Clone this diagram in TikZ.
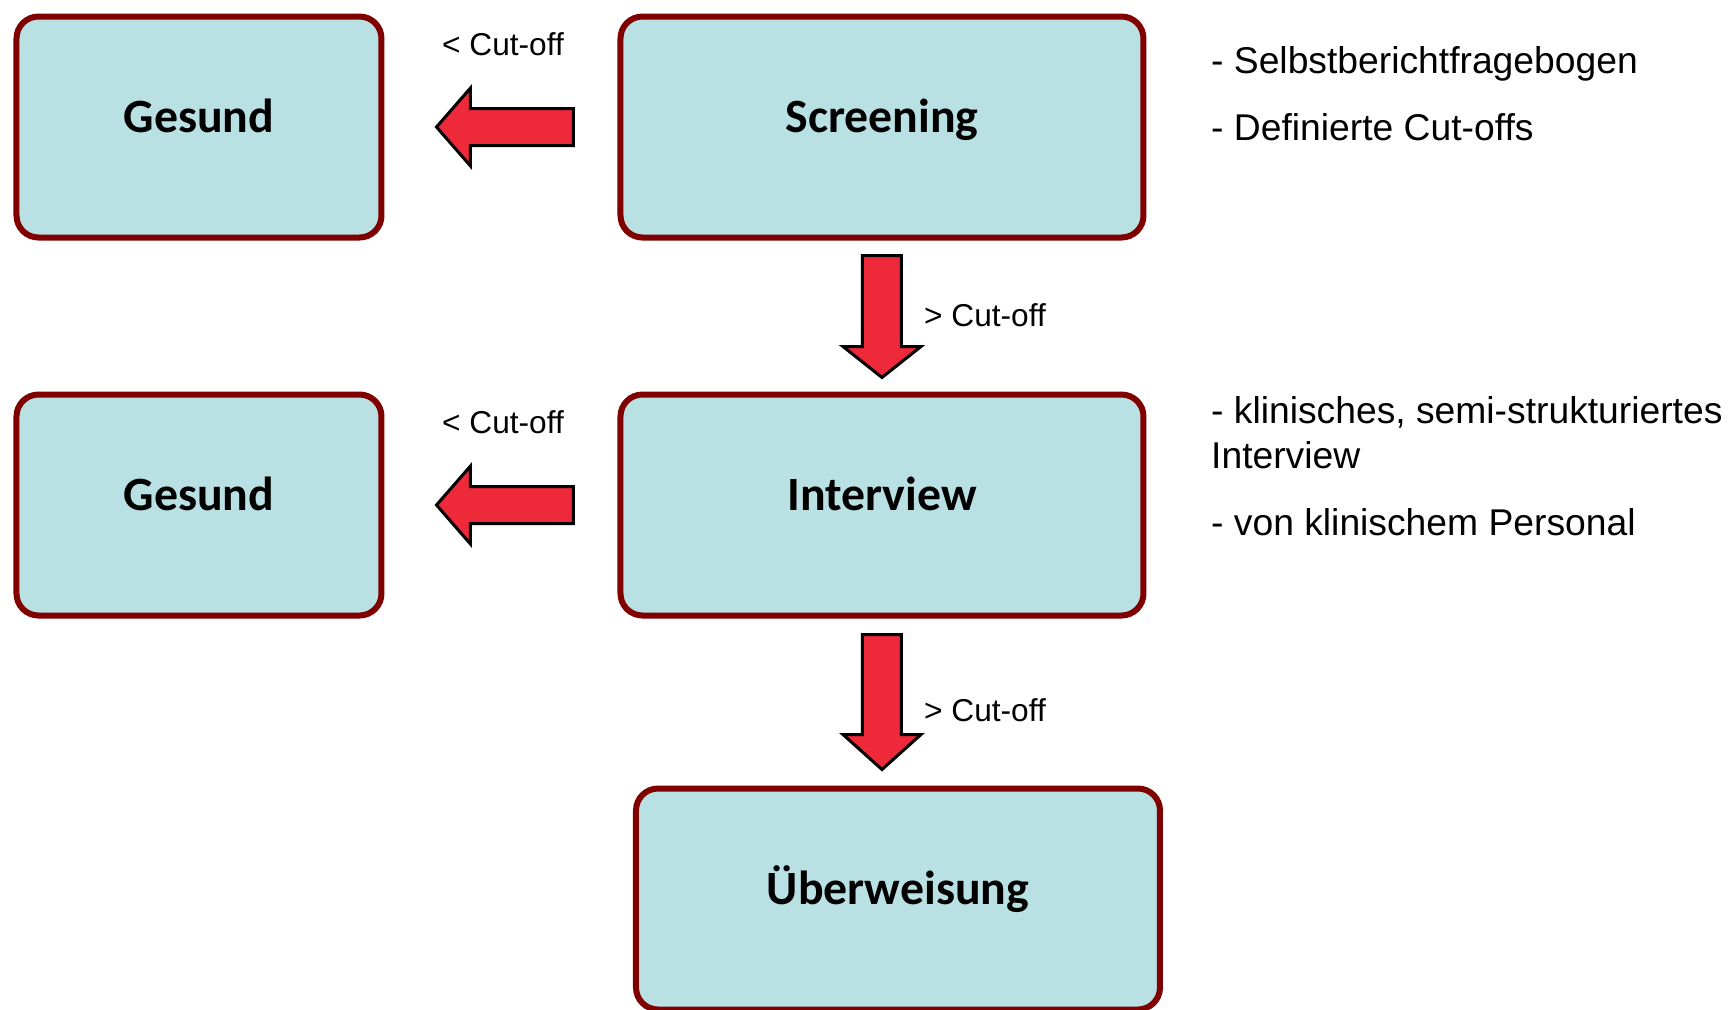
\documentclass[tikz,border=0pt]{standalone}
\usepackage{fontspec}
\setmainfont{Liberation Sans}
\newfontfamily\boxfont{Carlito}
\usepackage{tikz}
\usetikzlibrary{calc,positioning}
\definecolor{myboxblue}{RGB}{185,224,227}
\definecolor{myboxred}{RGB}{128,0,0}
\definecolor{myarrowred}{RGB}{237,41,58}

\begin{document}
\begin{tikzpicture}[
  stage/.style={
    draw=myboxred,
    fill=myboxblue,
    line width=0.6mm,
    rounded corners=2.2mm,
    minimum height=22.1mm,
    text height=3.3mm,
    text depth=2.2mm,
    font=\boxfont\bfseries\fontsize{13.6}{16}\selectfont
  },
  blockarrow/.style={
    draw=black,
    fill=myarrowred,
    line width=0.3mm,
    line join=miter
  },
  cutlabel/.style={
    inner sep=0pt,
    font=\fontsize{9}{11}\selectfont
  },
  note/.style={
    inner sep=0pt,
    anchor=west,
    align=left,
    font=\fontsize{10.6}{12.8}\selectfont
  }
]
\useasboundingbox (-88.2mm,12.7mm) rectangle (84.6mm,-88.2mm);

\node [stage, minimum width=52.3mm] (scr) at (0,0) {Screening};
\node [stage, minimum width=36.5mm, left=23.3mm of scr] (ges1) {Gesund};
\node [stage, minimum width=52.3mm, below=15.1mm of scr] (int) {Interview};
\node [stage, minimum width=36.5mm, left=23.3mm of int] (ges2) {Gesund};
\node [stage, minimum width=52.4mm, below=16.7mm of int, xshift=1.6mm] (ueb) {Überweisung};

% left arrows (< Cut-off)
\coordinate (a1) at ($(ges1.east)!0.5!(scr.west)$);
\coordinate (a2) at ($(ges2.east)!0.5!(int.west)$);
\foreach \from in {scr,int} {
  \draw [blockarrow] ($(\from.west)+(-4.4mm,1.85mm)$) -- ++(-10.3mm,0) -- ++(0,2.05mm)
    -- ++(-3.4mm,-3.9mm) -- ++(3.4mm,-3.9mm) -- ++(0,2.05mm) -- ++(10.3mm,0) -- cycle;
}
\node [cutlabel] (l1) at ($(a1)+(0.2mm,8.3mm)$) {< Cut-off};
\node [cutlabel] (l2) at ($(a2)+(0.2mm,8.3mm)$) {< Cut-off};

% down arrows (> Cut-off)
\draw [blockarrow] ($(scr.south)+(-1.95mm,-1.5mm)$) -- ++(0,-9.1mm) -- ++(-1.95mm,0)
  -- ++(3.9mm,-3.1mm) -- ++(3.9mm,3.1mm) -- ++(-1.95mm,0) -- ++(0,9.1mm) -- cycle;
\draw [blockarrow] ($(int.south)+(-1.95mm,-1.6mm)$) -- ++(0,-10mm) -- ++(-1.95mm,0)
  -- ++(3.9mm,-3.5mm) -- ++(3.9mm,3.5mm) -- ++(-1.95mm,0) -- ++(0,10mm) -- cycle;
\node [cutlabel, anchor=west] (l3) at ($(scr.south)+(4.15mm,-7.5mm)$) {> Cut-off};
\node [cutlabel, anchor=west] (l4) at ($(int.south)+(4.15mm,-9.2mm)$) {> Cut-off};

% notes
\node [note] (n1) at ($(scr.east)+(6.4mm,6.3mm)$) {- Selbstberichtfragebogen};
\node [note] (n2) at ($(scr.east)+(6.4mm,0mm)$) {- Definierte Cut-offs};
\node [note] (n3) at ($(int.east)+(6.4mm,7.2mm)$) {- klinisches, semi-strukturiertes\\Interview};
\node [note] (n4) at ($(int.east)+(6.4mm,-1.75mm)$) {- von klinischem Personal};

\end{tikzpicture}
\end{document}
